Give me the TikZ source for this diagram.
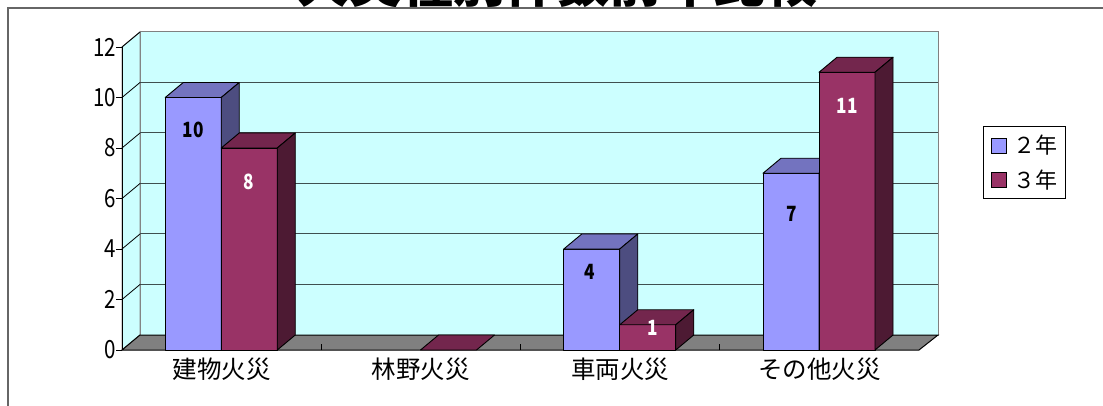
\documentclass[tikz,border=0pt]{standalone}
\usepackage{fontspec}
\setmainfont{Noto Sans CJK JP}
\newfontfamily\numfont[FakeStretch=0.82]{Noto Sans CJK JP}
\usetikzlibrary{positioning}

\definecolor{wallcyan}{HTML}{CCFFFF}
\definecolor{floorgray}{HTML}{808080}
\definecolor{gridgray}{HTML}{3F4F4F}
\definecolor{bluefront}{HTML}{9999FF}
\definecolor{bluetop}{HTML}{7373BF}
\definecolor{blueside}{HTML}{4D4D80}
\definecolor{redfront}{HTML}{993366}
\definecolor{redtop}{HTML}{73264D}
\definecolor{redside}{HTML}{4D1A33}

% one 3d bar: left x, value, front, top, side
\newcommand{\drawbar}[5]{%
  \pgfmathsetmacro\barY{350-25.25*#2}
  \filldraw[barline, fill=#3] (#1,350) rectangle (#1+56,\barY);
  \filldraw[barline, fill=#4] (#1,\barY) -- ++(18,-15) -- ++(56,0) -- ++(-18,15) -- cycle;
  \filldraw[barline, fill=#5] (#1+56,350) -- ++(18,-15) -- (#1+74,\barY-15) -- (#1+56,\barY) -- cycle;
}

\begin{document}
\begin{tikzpicture}[
    x=1pt, y=-1pt,
    barline/.style={draw=black, line width=0.9pt, line join=round},
    axlbl/.style={font=\numfont\fontsize{25}{25}\selectfont, inner sep=0pt},
    catlbl/.style={font=\fontsize{24.5}{25}\selectfont, inner sep=0pt},
    leglbl/.style={font=\fontsize{22}{22}\selectfont, inner sep=0pt},
    vallbl/.style={font=\numfont\fontsize{21}{21}\selectfont\bfseries, inner sep=0pt},
    legbox/.style={draw=black, line width=0.8pt, minimum size=15pt, inner sep=0pt},
]
    \clip (0,0) rectangle (1103,406);
    \fill[white] (0,0) rectangle (1103,406);

    % title, cut at the top edge
    \node[font=\fontsize{52}{52}\selectfont\bfseries, anchor=base, inner sep=0pt] (title) at (557,3) {火災種別件数前年比較};
    \draw[gray!80!black, line width=1.2pt] (8,406) -- (8,8) -- (1103,8);

    % walls and floor
    \filldraw[fill=wallcyan, draw=floorgray, line width=1pt] (140,335) rectangle (938,32);
    \filldraw[fill=wallcyan, draw=floorgray, line width=1pt] (122,350) -- (140,335) -- (140,32) -- (122,47) -- cycle;
    \filldraw[fill=floorgray, draw=black, line width=1pt] (122,350) -- (140,335) -- (938,335) -- (919,350) -- cycle;
    \foreach \v in {2,4,...,10} {
        \draw[gridgray, line width=1pt] (140,{335-25.25*\v}) -- (938,{335-25.25*\v});
        \draw[black, line width=0.8pt] (122,{350-25.25*\v}) -- (140,{335-25.25*\v});
    }
    \draw[black, line width=0.8pt] (122,47) -- (140,32);
    \foreach \k in {1,2,3}
        \draw[black, line width=0.8pt] ({122+199.25*\k},350) -- ++(0,-6);

    % bars
    \drawbar{165.25}{10}{bluefront}{bluetop}{blueside}
    \drawbar{221.25}{8}{redfront}{redtop}{redside}
    \filldraw[barline, fill=redtop] (420.5,350) -- ++(18,-15) -- ++(56,0) -- ++(-18,15) -- cycle;
    \drawbar{563.75}{4}{bluefront}{bluetop}{blueside}
    \drawbar{619.75}{1}{redfront}{redtop}{redside}
    \drawbar{763}{7}{bluefront}{bluetop}{blueside}
    \drawbar{819}{11}{redfront}{redtop}{redside}

    % value labels
    \node[vallbl] (v10) at (193,130) {10};
    \node[vallbl, text=white] (v8) at (249,182) {8};
    \node[vallbl] (v4) at (590,272) {4};
    \node[vallbl, text=white] (v1) at (653,328) {1};
    \node[vallbl] (v7) at (792,214) {7};
    \node[vallbl, text=white] (v11) at (847,106) {11};

    % value axis
    \draw[black, line width=1pt] (122,350) -- (122,47);
    \foreach \v in {0,2,...,12} {
        \draw[black, line width=0.8pt] (116,{350-25.25*\v}) -- (122,{350-25.25*\v});
        \node[axlbl, anchor=east] (ylab\v) at (116,{350-25.25*\v}) {\v};
    }

    % categories
    \foreach \name [count=\k from 0] in {建物火災,林野火災,車両火災,その他火災}
        \node[catlbl] (cat\k) at ({221.6+199.25*\k},369) {\name};

    % legend
    \draw[black, line width=0.8pt] (983,126) rectangle (1065,198);
    \node[legbox, fill=bluefront] (keyA) at (998.5,145.5) {};
    \node[legbox, fill=redfront, below=19pt of keyA] (keyB) {};
    \node[leglbl, right=7pt of keyA] (labA) {２年};
    \node[leglbl, right=7pt of keyB] (labB) {３年};
\end{tikzpicture}
\end{document}
